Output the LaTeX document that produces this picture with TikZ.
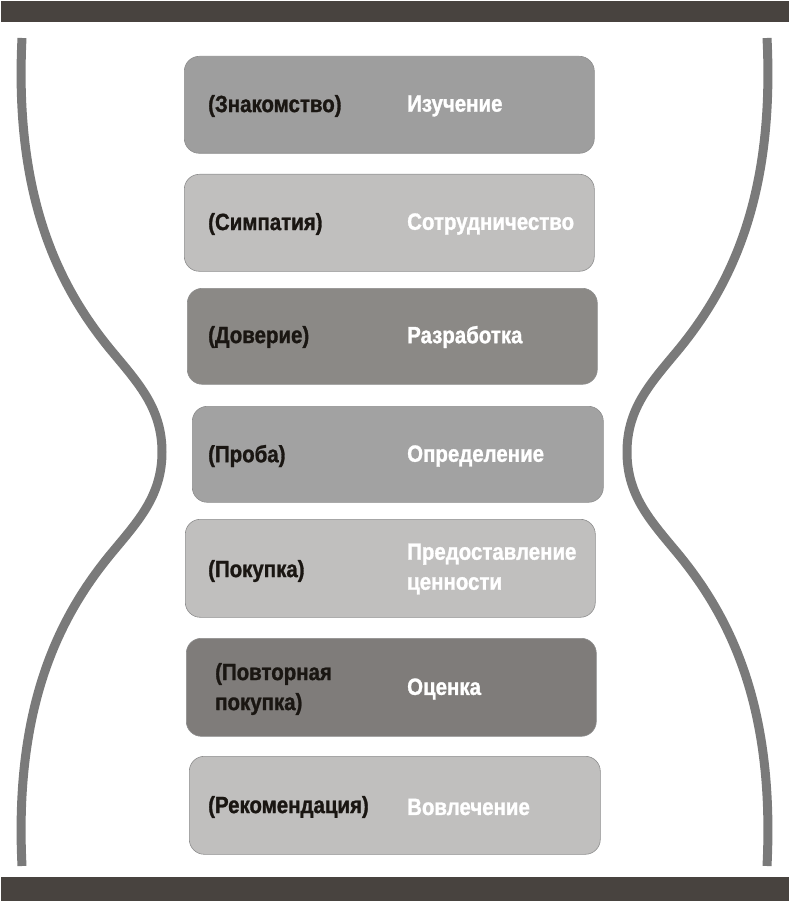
\documentclass[tikz,border=0pt]{standalone}
\usepackage{fontspec}
\setmainfont{Liberation Sans}[FakeStretch=0.87,BoldFeatures={FakeBold=1.2}]
\definecolor{barc}{HTML}{48433F}
\definecolor{curvec}{HTML}{7A7A7A}
\definecolor{cmed}{HTML}{9E9E9E}
\definecolor{clight}{HTML}{C0BFBE}
\definecolor{cdark}{HTML}{8B8986}
\definecolor{cmid}{HTML}{A2A2A2}
\definecolor{cdarker}{HTML}{7F7C7A}
\definecolor{blk}{HTML}{1A1612}
\definecolor{edgec}{HTML}{8E8E8E}
\begin{document}
\begin{tikzpicture}[x=1pt,y=-1pt,
  stagebox/.style={draw=edgec,line width=0.6pt,rounded corners=15pt,minimum width=410pt,minimum height=97pt,inner sep=0pt,anchor=north west},
  lefttxt/.style={anchor=west,inner sep=0pt,text=blk,font=\fontsize{23.5}{30}\selectfont\bfseries,align=left},
  righttxt/.style={anchor=west,inner sep=0pt,text=white,font=\fontsize{23.5}{30}\selectfont\bfseries,align=left},
  barstyle/.style={fill=barc,draw=none},
  curvestyle/.style={draw=curvec,line width=9pt}]
\useasboundingbox (0,0) rectangle (789,901);
% bars
\fill[barstyle] (1,1) rectangle (789,22);
\fill[barstyle] (1,877) rectangle (789,901);
% hourglass curves
\draw[curvestyle] (22,38) .. controls (14,200) and (60,290) .. (115,355)
  .. controls (140,385) and (162,410) .. (162,452)
  .. controls (162,494) and (140,519) .. (115,549)
  .. controls (60,614) and (14,704) .. (22,866);
\draw[curvestyle] (767,38) .. controls (775,200) and (729,290) .. (674,355)
  .. controls (649,385) and (627,410) .. (627,452)
  .. controls (627,494) and (649,519) .. (674,549)
  .. controls (729,614) and (775,704) .. (767,866);
% boxes
\node[stagebox,fill=cmed] (b1) at (184,56) {};
\node[stagebox,fill=clight] (b2) at (184,174) {};
\node[stagebox,fill=cdark,minimum height=96pt] (b3) at (187,288) {};
\node[stagebox,fill=cmid,minimum width=411pt,minimum height=96pt] (b4) at (192,406) {};
\node[stagebox,fill=clight,minimum height=98pt] (b5) at (185,519) {};
\node[stagebox,fill=cdarker,minimum height=98pt] (b6) at (186,638) {};
\node[stagebox,fill=clight,minimum width=411pt,minimum height=98pt] (b7) at (189,756) {};
% texts
\node[lefttxt] (l1) at (208,106) {(Знакомство)};
\node[righttxt] (r1) at (407,106) {Изучение};
\node[lefttxt] (l2) at (208,224) {(Симпатия)};
\node[righttxt] (r2) at (407,224) {Сотрудничество};
\node[lefttxt] (l3) at (208,337) {(Доверие)};
\node[righttxt] (r3) at (407,337) {Разработка};
\node[lefttxt] (l4) at (208,456) {(Проба)};
\node[righttxt] (r4) at (407,456) {Определение};
\node[lefttxt] (l5) at (208,571) {(Покупка)};
\node[righttxt] (r5) at (407,569) {Предоставление\\ценности};
\node[lefttxt] (l6) at (215,689) {(Повторная\\покупка)};
\node[righttxt] (r6) at (407,689) {Оценка};
\node[lefttxt] (l7) at (208,807) {(Рекомендация)};
\node[righttxt] (r7) at (407,807) {Вовлечение};
\end{tikzpicture}
\end{document}
